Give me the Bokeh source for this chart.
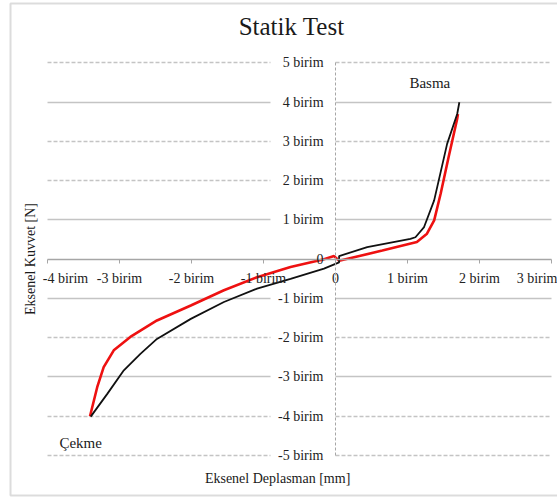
from bokeh.plotting import figure
from bokeh.models import LinearAxis, FixedTicker, Grid, Label, BoxAnnotation, Range1d
from bokeh.embed import file_html
from bokeh.resources import INLINE

# ---- data ----
x_ticks = [-4, -3, -2, -1, 0, 1, 2, 3]
x_tick_labels = ["-4 birim", "-3 birim", "-2 birim", "-1 birim", "0", "1 birim", "2 birim", "3 birim"]
y_ticks = [5, 4, 3, 2, 1, 0, -1, -2, -3, -4, -5]
y_tick_labels = ["5 birim", "4 birim", "3 birim", "2 birim", "1 birim", "0",
                 "-1 birim", "-2 birim", "-3 birim", "-4 birim", "-5 birim"]
grid_solid = [4, 1, -1, -3]
grid_dashed = [5, 3, 2, -2, -4, -5]

black_x = [-3.40, -3.17, -2.94, -2.71, -2.48, -2.01, -1.55, -1.09, -0.625, -0.16, 0.05, 0.05,
           0.44, 1.04, 1.11, 1.23, 1.37, 1.55, 1.69, 1.72]
black_y = [-4.01, -3.43, -2.83, -2.41, -2.03, -1.52, -1.09, -0.75, -0.50, -0.24, -0.08, 0.08,
           0.31, 0.52, 0.56, 0.82, 1.50, 2.94, 3.70, 4.00]
red_x = [-3.41, -3.31, -3.22, -3.08, -2.85, -2.48, -2.01, -1.55, -1.09, -0.625, -0.16, -0.02,
         0.05, 0.65, 1.13, 1.27, 1.37, 1.46, 1.57, 1.69, 1.70]
red_y = [-4.00, -3.26, -2.75, -2.32, -1.98, -1.56, -1.18, -0.79, -0.46, -0.20, 0.00, 0.08,
         -0.04, 0.22, 0.44, 0.65, 0.99, 1.67, 2.60, 3.58, 3.70]

FONT = "Liberation Serif"
X_MIN, X_MAX = -4, 3
Y_MIN, Y_MAX = -5, 5

p = figure(width=557, height=498, x_range=Range1d(-4.653, 3.083), y_range=Range1d(-6.096, 6.592),
           output_backend="svg", toolbar_location=None,
           x_axis_location=None, y_axis_location=None,
           min_border_left=0, min_border_right=0, min_border_top=0, min_border_bottom=0,
           outline_line_color=None, background_fill_color="white", border_fill_color="white")
p.grid.visible = False

has_cross = "cross_bounds" in Grid.properties()
for ticks, dash in ((grid_solid, "solid"), (grid_dashed, "4 2")):
    for cb in ((X_MIN, -0.9), (0, X_MAX)):
        if has_cross:
            p.add_layout(Grid(dimension=1, ticker=FixedTicker(ticks=ticks), cross_bounds=cb,
                              grid_line_color="#c4c4c4", grid_line_width=1.3, grid_line_dash=dash))
        else:
            p.segment(x0=[cb[0]] * len(ticks), x1=[cb[1]] * len(ticks), y0=ticks, y1=ticks,
                      line_color="#c4c4c4", line_width=1.3, line_dash=dash)

x_overrides = {t: s for t, s in zip(x_ticks, x_tick_labels)}
x_overrides[x_ticks[0]] = ""   # edge label drawn shifted inward below (as in the original)
xaxis = LinearAxis(fixed_location=0, bounds=(X_MIN, X_MAX), ticker=FixedTicker(ticks=x_ticks),
                   major_label_overrides=x_overrides,
                   axis_line_color="#a6a6a6", axis_line_width=1.3,
                   major_tick_line_color="#a6a6a6", major_tick_in=0, major_tick_out=4,
                   minor_tick_line_color=None, major_label_standoff=8,
                   major_label_text_font=FONT, major_label_text_font_size="14px",
                   major_label_text_color="#222222")
yaxis = LinearAxis(fixed_location=0, bounds=(Y_MIN, Y_MAX), ticker=FixedTicker(ticks=y_ticks),
                   major_label_overrides={t: s for t, s in zip(y_ticks, y_tick_labels)},
                   axis_line_color="#a6a6a6", axis_line_width=1, axis_line_dash="3 2",
                   major_tick_line_color=None, major_tick_in=0, major_tick_out=0,
                   minor_tick_line_color=None, major_label_standoff=12,
                   major_label_text_font=FONT, major_label_text_font_size="14px",
                   major_label_text_color="#222222")
p.add_layout(xaxis, "below")
p.add_layout(yaxis, "left")

p.add_layout(Label(x=x_ticks[0], y=0, x_offset=18, y_offset=-12, text=x_tick_labels[0],
                   text_font=FONT, text_font_size="14px", text_color="#222222",
                   text_align="center", text_baseline="top"))

p.line(red_x, red_y, line_color="#ee1111", line_width=2.6)
p.line(black_x, black_y, line_color="#111111", line_width=1.8)

def lab(x, y, text, size, angle=0):
    p.add_layout(Label(x=x, y=y, text=text, text_font=FONT, text_font_size=size,
                       text_color="#1a1a1a", text_align="center", text_baseline="middle",
                       angle=angle))

lab(-0.61, 5.93, "Statik Test", "25px")
lab(-0.78, -5.59, "Eksenel Deplasman  [mm]", "14px")
lab(-4.236, 0.05, "Eksenel Kuvvet  [N]", "14px", angle=1.5708)
lab(1.31, 4.50, "Basma", "15px")
lab(-3.54, -4.67, "Çekme", "15px")

p.add_layout(BoxAnnotation(left=-4.514, right=3.3, top=6.516, bottom=-6.019,
                           fill_alpha=0, line_color="#8c8c8c", line_width=2))

open("out.html", "w").write(file_html(p, INLINE))
